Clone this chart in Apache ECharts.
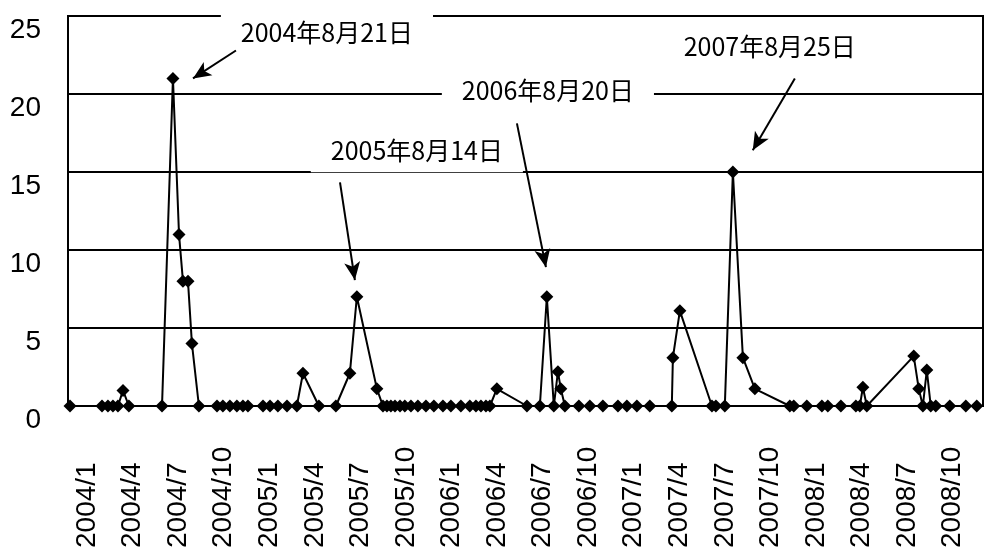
<!DOCTYPE html>
<html>
<head>
<meta charset="utf-8">
<script src="https://cdn.jsdelivr.net/npm/echarts@6/dist/echarts.min.js"></script>
<style>
html,body{margin:0;padding:0;background:#fff;}
#chart{width:986px;height:551px;}
</style>
</head>
<body>
<div id="chart"></div>
<script>
// x positions: months since 2004/1; y values
const monthPos = [-1.12, 0.99, 1.38, 1.71, 2.04, 2.37, 2.76, 4.94, 5.66, 6.06, 6.32, 6.65, 6.91, 7.37,
  8.56, 8.95, 9.41, 9.87, 10.27, 10.60, 11.59, 12.05, 12.57, 13.17, 13.82, 14.22, 15.27, 16.39,
  17.31, 17.77, 19.09, 19.49, 19.75, 20.01, 20.28, 20.61, 20.93, 21.33, 21.79, 22.32, 22.84,
  23.44, 23.96, 24.62, 25.21, 25.61, 25.94, 26.27, 26.53, 26.99, 28.97, 29.82, 30.28, 30.74,
  31.01, 31.20, 31.47, 32.39, 33.11, 33.97, 34.96, 35.55, 36.21, 37.06, 38.51, 38.58, 39.04,
  41.15, 41.41, 42.00, 42.53, 43.19, 43.98, 46.28, 46.54, 47.40, 48.39, 48.78, 49.64, 50.63,
  50.89, 51.09, 51.35, 54.44, 54.77, 55.04, 55.30, 55.56, 55.89, 56.81, 57.87, 58.59];
const values = [0, 0, 0, 0, 0, 1.0, 0, 0, 21.0, 11.0, 8.0, 8.0, 4.0, 0,
  0, 0, 0, 0, 0, 0, 0, 0, 0, 0, 0, 2.1, 0, 0,
  2.1, 7.0, 1.1, 0, 0, 0, 0, 0, 0, 0, 0, 0, 0,
  0, 0, 0, 0, 0, 0, 0, 0, 1.1, 0, 0, 7.0, 0,
  2.2, 1.1, 0, 0, 0, 0, 0, 0, 0, 0, 0, 3.1, 6.1,
  0, 0, 0, 15.0, 3.1, 1.1, 0, 0, 0, 0, 0, 0, 0,
  0, 1.2, 0, 3.2, 1.1, 0, 2.3, 0, 0, 0, 0, 0];

// x-axis tick labels (every 3 months from 2004/1)
const tickMonths = [0, 3, 6, 9, 12, 15, 18, 21, 24, 27, 30, 33, 36, 39, 42, 45, 48, 51, 54, 57];
const tickLabels = ['2004/1','2004/4','2004/7','2004/10','2005/1','2005/4','2005/7','2005/10',
  '2006/1','2006/4','2006/7','2006/10','2007/1','2007/4','2007/7','2007/10',
  '2008/1','2008/4','2008/7','2008/10'];

// annotations
const noteTexts = ['2004年8月21日', '2005年8月14日', '2006年8月20日', '2007年8月25日'];
const notePos = [[15.8, 23.94], [21.72, 16.39], [30.35, 20.23], [44.96, 23.05]];
const arrowFrom = [[9.81, 22.79], [16.66, 14.34], [28.31, 18.12], [46.61, 21.0]];
const arrowTo = [[6.98, 21.0], [17.64, 8.07], [30.22, 8.90], [43.84, 16.39]];

const chart = echarts.init(document.getElementById('chart'));
const font = 'Liberation Sans, Arial, sans-serif';

chart.setOption({
  animation: false,
  backgroundColor: '#ffffff',
  grid: {
    left: 68, right: 3, top: 16, bottom: 145,
    show: true, borderColor: '#000', borderWidth: 2,
    containLabel: false, outerBoundsMode: 'none'
  },
  xAxis: {
    type: 'value',
    min: -1.25, max: 59.0,
    splitLine: { show: false },
    axisTick: { show: false },
    axisLine: { show: true, onZero: false, lineStyle: { color: '#000', width: 2 } },
    axisLabel: {
      customValues: tickMonths,
      rotate: 90,
      align: 'left',
      verticalAlign: 'middle',
      margin: 142,
      fontSize: 28,
      fontFamily: font,
      color: '#000',
      formatter: function (v) {
        const i = tickMonths.indexOf(Math.round(v));
        return i >= 0 ? tickLabels[i] : '';
      }
    }
  },
  yAxis: {
    type: 'value',
    min: 0, max: 25, interval: 5,
    axisLine: { show: true, onZero: false, lineStyle: { color: '#000', width: 2 } },
    axisTick: { show: false },
    splitLine: { show: true, lineStyle: { color: '#000', width: 2 } },
    axisLabel: {
      fontSize: 28, fontFamily: font, color: '#000', margin: 27,
      verticalAlign: 'top'
    }
  },
  series: [{
    type: 'line',
    data: monthPos.map((m, i) => [m, values[i]]),
    symbol: 'diamond',
    symbolSize: 13,
    showAllSymbol: true,
    lineStyle: { color: '#000', width: 2 },
    itemStyle: { color: '#000' },
    emphasis: { disabled: true },
    silent: true,
    markPoint: {
      silent: true,
      z: 3,
      symbol: 'rect',
      symbolSize: 1,
      itemStyle: { color: 'rgba(0,0,0,0)' },
      label: {
        show: true,
        position: 'inside',
        color: '#000',
        fontSize: 25,
        lineHeight: 24,
        fontFamily: 'Noto Sans CJK JP, sans-serif',
        backgroundColor: '#fff',
        padding: [8, 20, 12, 20],
        formatter: p => p.name
      },
      data: noteTexts.map((t, i) => ({ name: t, coord: notePos[i] }))
    },
    markLine: {
      silent: true,
      z: 10,
      symbol: ['none', 'arrow'],
      symbolSize: [12, 18],
      lineStyle: { color: '#000', width: 2, type: 'solid' },
      label: { show: false },
      data: arrowFrom.map((f, i) => [{ coord: f }, { coord: arrowTo[i] }])
    }
  }]
});
</script>
</body>
</html>
